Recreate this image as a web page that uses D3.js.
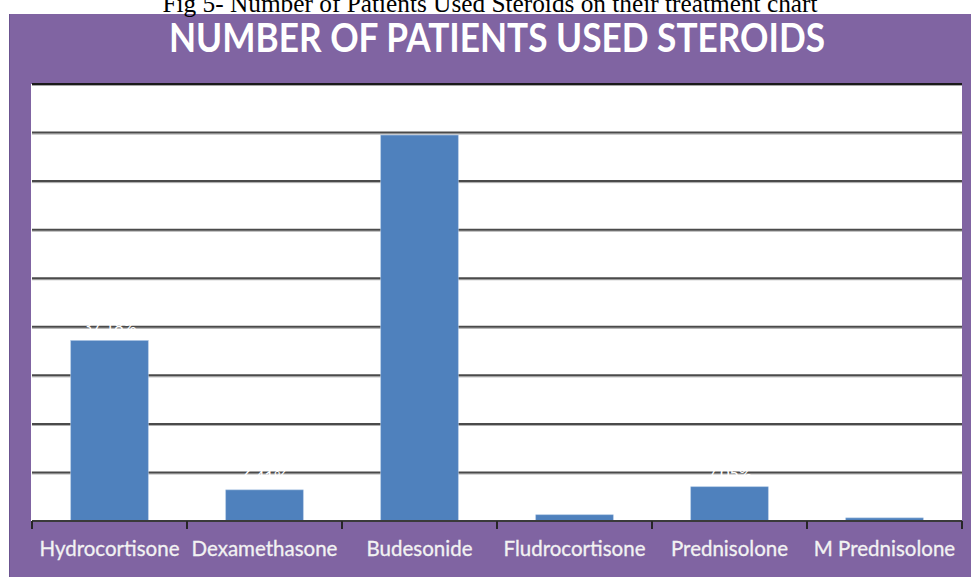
<!DOCTYPE html>
<html>
<head>
<meta charset="utf-8">
<script src="https://cdn.jsdelivr.net/npm/d3@7"></script>
<style>
  html, body { margin: 0; padding: 0; background: #ffffff; }
  svg { display: block; }
</style>
</head>
<body>
<svg id="chart" width="971" height="577"></svg>
<script>
// Share of patients (%) who used each steroid
const categories = ["Hydrocortisone", "Dexamethasone", "Budesonide", "Fludrocortisone", "Prednisolone", "M Prednisolone"];
const values = [37.18, 6.41, 79.49, 1.28, 7.05, 0.64];
const valueLabels = ["37.18%", "6.41%", "79.49%", "1.28%", "7.05%", "0.64%"];
const gridTicks = [0, 10, 20, 30, 40, 50, 60, 70, 80, 90];

const captionText = "Fig 5- Number of Patients Used Steroids on their treatment chart";
const titleText = "NUMBER OF PATIENTS USED STEROIDS";

const svg = d3.select("#chart");
const W = 971, H = 577;

// Purple chart frame
svg.append("rect")
  .attr("x", 9).attr("y", 14)
  .attr("width", W - 9).attr("height", H - 14)
  .attr("fill", "#8064A2");
svg.append("line")
  .attr("x1", 9.5).attr("x2", 9.5).attr("y1", 14).attr("y2", H)
  .attr("stroke", "#6b5390").attr("stroke-width", 1);

// Figure caption, sitting on the top edge of the frame
svg.append("text")
  .attr("x", 490).attr("y", 12)
  .attr("text-anchor", "middle")
  .attr("font-family", "'Liberation Serif', 'Times New Roman', serif")
  .attr("font-size", 25)
  .attr("fill", "#000")
  .attr("textLength", 655)
  .attr("lengthAdjust", "spacingAndGlyphs")
  .text(captionText);

// Chart title
svg.append("text")
  .attr("x", 497).attr("y", 52)
  .attr("text-anchor", "middle")
  .attr("font-family", "Lato, 'Open Sans', sans-serif")
  .attr("font-weight", "bold")
  .attr("font-size", 40)
  .attr("fill", "#ffffff")
  .attr("textLength", 656)
  .attr("lengthAdjust", "spacingAndGlyphs")
  .text(titleText);

const plot = { left: 32, right: 962, top: 84, bottom: 521 };

// White plot area
svg.append("rect")
  .attr("x", plot.left - 1).attr("y", plot.top)
  .attr("width", plot.right - plot.left + 1).attr("height", plot.bottom - plot.top)
  .attr("fill", "#ffffff");

const x = d3.scaleBand()
  .domain(categories)
  .range([plot.left, plot.right])
  .paddingInner(0.5)
  .paddingOuter(0.25);

const y = d3.scaleLinear()
  .domain([0, 90])
  .range([plot.bottom, plot.top]);

// Horizontal gridlines
const grid = svg.append("g");
grid.selectAll("line.shadow")
  .data(gridTicks.filter(t => t > 0))
  .join("line")
  .attr("class", "shadow")
  .attr("x1", plot.left).attr("x2", plot.right)
  .attr("y1", d => y(d) + 1.5).attr("y2", d => y(d) + 1.5)
  .attr("stroke", "#a6a6a6").attr("stroke-width", 1);
grid.selectAll("line.major")
  .data(gridTicks.filter(t => t > 0))
  .join("line")
  .attr("class", "major")
  .attr("x1", plot.left).attr("x2", plot.right)
  .attr("y1", d => y(d)).attr("y2", d => y(d))
  .attr("stroke", d => d === 90 ? "#1a1a1a" : "#4a4a4a")
  .attr("stroke-width", 2);

// Bars
svg.append("g")
  .selectAll("rect")
  .data(categories.map((c, i) => ({ c, v: values[i] })))
  .join("rect")
  .attr("x", d => x(d.c))
  .attr("y", d => y(d.v))
  .attr("width", x.bandwidth())
  .attr("height", d => y(0) - y(d.v))
  .attr("fill", "#4F81BD")
  .attr("stroke", "#a9c3e3")
  .attr("stroke-width", 0.6);

// Value labels (white, above each bar)
svg.append("g")
  .selectAll("text")
  .data(categories.map((c, i) => ({ c, v: values[i], t: valueLabels[i] })))
  .join("text")
  .attr("x", d => x(d.c) + x.bandwidth() / 2)
  .attr("y", d => y(d.v) - 8)
  .attr("text-anchor", "middle")
  .attr("font-family", "Lato, 'Open Sans', sans-serif")
  .attr("font-size", 16)
  .attr("fill", "#ffffff")
  .text(d => d.t);

// Category axis with boundary ticks
const axisG = svg.append("g");
axisG.append("line")
  .attr("x1", plot.left).attr("x2", plot.right)
  .attr("y1", plot.bottom).attr("y2", plot.bottom)
  .attr("stroke", "#3a3a3a").attr("stroke-width", 2);
const bounds = categories.map(c => x(c) - x.step() * x.paddingInner() / 2)
  .concat([plot.right]);
axisG.selectAll("line.tick")
  .data(bounds)
  .join("line")
  .attr("class", "tick")
  .attr("x1", d => d).attr("x2", d => d)
  .attr("y1", plot.bottom).attr("y2", plot.bottom + 8)
  .attr("stroke", "#262626").attr("stroke-width", 2);

axisG.selectAll("text")
  .data(categories)
  .join("text")
  .attr("x", d => x(d) + x.bandwidth() / 2)
  .attr("y", 556)
  .attr("text-anchor", "middle")
  .attr("font-family", "Lato, 'Open Sans', sans-serif")
  .attr("font-size", 20.5)
  .attr("fill", "#f2f2f2")
  .attr("stroke", "#f2f2f2")
  .attr("stroke-width", 0.3)
  .text(d => d);
</script>
</body>
</html>
